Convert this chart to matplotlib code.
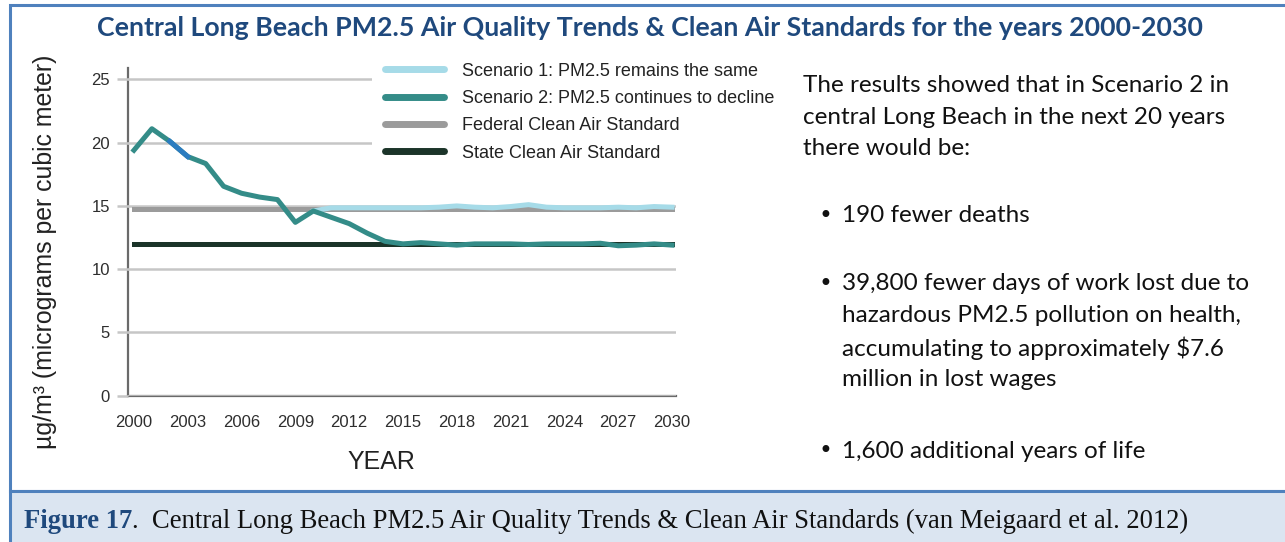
import matplotlib
matplotlib.use("Agg")
import matplotlib.pyplot as plt
from matplotlib.patches import Rectangle
from matplotlib.lines import Line2D

# years shown on the chart
years = list(range(2000, 2031))
tick_years = list(range(2000, 2031, 3))

# scenario 2: PM2.5 continues to decline
scenario2 = [19.4, 21.1, 20.1, 18.9, 18.35, 16.55, 16.0, 15.7, 15.5, 13.7,
             14.6, 14.1, 13.6, 12.85, 12.2, 12.0, 12.1, 12.0, 11.9, 12.0,
             12.0, 12.0, 11.95, 12.0, 12.0, 12.0, 12.05, 11.85, 11.9, 12.0, 11.9]

# scenario 1: PM2.5 remains the same (only visible from 2010 on)
s1_years = list(range(2010, 2031))
scenario1 = [14.6, 14.85, 14.85, 14.85, 14.85, 14.85, 14.85, 14.9, 15.0, 14.9,
             14.85, 14.95, 15.1, 14.9, 14.85, 14.85, 14.85, 14.9, 14.85, 14.95, 14.9]

federal_std = 14.75
state_std = 12.0

legend_labels = ["Scenario 1: PM2.5 remains the same",
                 "Scenario 2: PM2.5 continues to decline",
                 "Federal Clean Air Standard",
                 "State Clean Air Standard"]

title = "Central Long Beach PM2.5 Air Quality Trends & Clean Air Standards for the years 2000-2030"
intro = ["The results showed that in Scenario 2 in",
         "central Long Beach in the next 20 years",
         "there would be:"]
bullet1 = ["190 fewer deaths"]
bullet2 = ["39,800 fewer days of work lost due to",
           "hazardous PM2.5 pollution on health,",
           "accumulating to approximately $7.6",
           "million in lost wages"]
bullet3 = ["1,600 additional years of life"]

c_s1 = "#a6dbe8"
c_s2 = "#348c88"
c_fed = "#9b9b9b"
c_state = "#1b3429"
c_grid = "#c6c6c6"
c_blue = "#4f81bd"
c_navy = "#1f497d"

W, H = 1285, 542


def fx(px):
    return px / W


def fy(py):
    return 1 - py / H


fig = plt.figure(figsize=(W / 100, H / 100), dpi=100)

# outer panel and caption band
fig.add_artist(Rectangle((fx(10), fy(491)), 1.1, fy(5) - fy(491), transform=fig.transFigure,
                         facecolor="white", edgecolor=c_blue, linewidth=2.2, zorder=0))
fig.add_artist(Rectangle((fx(10), -0.1), 1.1, fy(491) + 0.1, transform=fig.transFigure,
                         facecolor="#dbe5f1", edgecolor=c_blue, linewidth=2.2, zorder=0))

ax = fig.add_axes([fx(128), fy(395.7), fx(676) - fx(128), fy(68) - fy(395.7)])
ax.set_facecolor("none")

ax.set_xlim(1999.67, 2030.22)
ax.set_ylim(0, 25.9)

ax.set_yticks([0, 5, 10, 15, 20, 25])
ax.set_xticks(tick_years)
ax.set_xticklabels([str(y) for y in tick_years])
ax.grid(axis="y", color=c_grid, linewidth=1.8, zorder=0)
ax.tick_params(axis="y", length=8, width=1.8, color=c_grid, pad=5)
ax.tick_params(axis="x", length=0, pad=14)
for lab in ax.get_xticklabels() + ax.get_yticklabels():
    lab.set_family("Liberation Sans")
    lab.set_fontsize(12)
    lab.set_color("#2e2e2e")

for s in ["top", "right"]:
    ax.spines[s].set_visible(False)
for s in ["left", "bottom"]:
    ax.spines[s].set_color("#6a6a6a")
    ax.spines[s].set_linewidth(1.6)
    ax.spines[s].set_zorder(1)

lw = 3.6
ax.plot([years[0], years[-1]], [federal_std, federal_std], color=c_fed, lw=lw, zorder=2)
ax.plot([years[0], years[-1]], [state_std, state_std], color=c_state, lw=lw, zorder=3)
ax.plot(s1_years, scenario1, color=c_s1, lw=lw, zorder=4, solid_joinstyle="round")
ax.plot(years, scenario2, color=c_s2, lw=lw, zorder=5, solid_joinstyle="round")
ax.plot(years[2:4], scenario2[2:4], color="#2b7cc0", lw=lw, zorder=6)

handles = [Line2D([], [], color=c, lw=5, solid_capstyle="round")
           for c in [c_s1, c_s2, c_fed, c_state]]
leg = fig.legend(handles, legend_labels, loc="upper left",
                 bbox_to_anchor=(fx(372), fy(50)), frameon=True, facecolor="white",
                 edgecolor="none", framealpha=1, borderpad=0.7, borderaxespad=0,
                 handlelength=3.3, handletextpad=1.0, labelspacing=0.57,
                 prop={"family": "Liberation Sans", "size": 13})
leg.set_zorder(10)
for t in leg.get_texts():
    t.set_color("#222222")

fig.text(fx(45), fy(252), "µg/m³ (micrograms per cubic meter)", rotation=90,
         ha="center", va="center", fontsize=17.9, family="Liberation Sans", color="#222222")
fig.text(fx(381), fy(462), "YEAR", ha="center", va="center", fontsize=18,
         family="Liberation Sans", color="#222222")

fig.text(fx(650), fy(28), title, ha="center", va="center", fontsize=19.3,
         fontweight="bold", family="Lato", color=c_navy)

body = dict(fontsize=17.5, family="Lato", color="#111111", va="center", ha="left")
for i, line in enumerate(intro):
    fig.text(fx(803), fy(86 + 31.5 * i), line, **body)
for ys, lines in [(216, bullet1), (284, bullet2), (451, bullet3)]:
    fig.text(fx(825), fy(ys), "•", ha="center", va="center", fontsize=17,
             family="DejaVu Sans", color="#111111")
    for i, line in enumerate(lines):
        fig.text(fx(842), fy(ys + 32 * i), line, **body)

cap = fig.text(fx(24), fy(521), "Figure 17", ha="left", va="center", fontsize=19.2,
               fontweight="bold", family="Liberation Serif", color=c_navy)
fig.canvas.draw()
bb = cap.get_window_extent()
fig.text(bb.x1 / W, fy(521),
         ".  Central Long Beach PM2.5 Air Quality Trends & Clean Air Standards (van Meigaard et al. 2012)",
         ha="left", va="center", fontsize=19.2, family="Liberation Serif", color="#111111")

fig.savefig("out.png", dpi=100)
